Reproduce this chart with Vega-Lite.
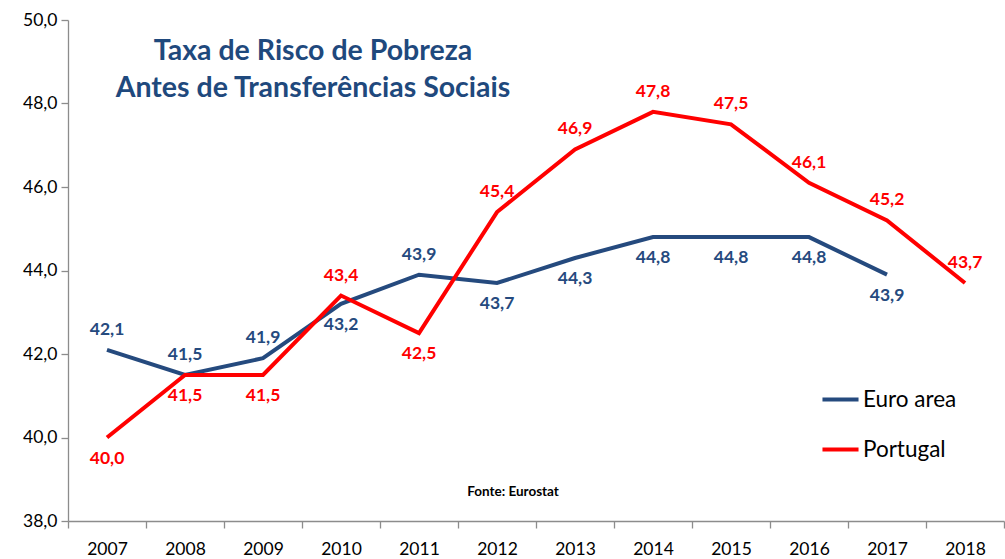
{
  "$schema": "https://vega.github.io/schema/vega-lite/v6.json",
  "width": 936,
  "height": 501,
  "autosize": {"type": "none"},
  "padding": {"left": 68, "top": 20, "right": 1, "bottom": 38},
  "background": "white",
  "config": {
    "view": {"stroke": null},
    "font": "Lato",
    "locale": {"number": {"decimal": ",", "thousands": ".", "grouping": [3], "currency": ["", " €"]}}
  },
  "title": {
    "text": ["Taxa de Risco de Pobreza", "Antes de Transferências Sociais"],
    "font": "Lato",
    "fontSize": 28.5,
    "fontWeight": "bold",
    "color": "#1F497D",
    "anchor": "middle",
    "dx": -223,
    "dy": 95,
    "lineHeight": 37
  },
  "data": {
    "values": [
      {"year": "2007", "series": "Euro area", "value": 42.1},
      {"year": "2008", "series": "Euro area", "value": 41.5},
      {"year": "2009", "series": "Euro area", "value": 41.9},
      {"year": "2010", "series": "Euro area", "value": 43.2},
      {"year": "2011", "series": "Euro area", "value": 43.9},
      {"year": "2012", "series": "Euro area", "value": 43.7},
      {"year": "2013", "series": "Euro area", "value": 44.3},
      {"year": "2014", "series": "Euro area", "value": 44.8},
      {"year": "2015", "series": "Euro area", "value": 44.8},
      {"year": "2016", "series": "Euro area", "value": 44.8},
      {"year": "2017", "series": "Euro area", "value": 43.9},
      {"year": "2007", "series": "Portugal", "value": 40.0},
      {"year": "2008", "series": "Portugal", "value": 41.5},
      {"year": "2009", "series": "Portugal", "value": 41.5},
      {"year": "2010", "series": "Portugal", "value": 43.4},
      {"year": "2011", "series": "Portugal", "value": 42.5},
      {"year": "2012", "series": "Portugal", "value": 45.4},
      {"year": "2013", "series": "Portugal", "value": 46.9},
      {"year": "2014", "series": "Portugal", "value": 47.8},
      {"year": "2015", "series": "Portugal", "value": 47.5},
      {"year": "2016", "series": "Portugal", "value": 46.1},
      {"year": "2017", "series": "Portugal", "value": 45.2},
      {"year": "2018", "series": "Portugal", "value": 43.7}
    ]
  },
  "layer": [
    {
      "mark": {"type": "line", "strokeWidth": 4},
      "encoding": {
        "x": {
          "field": "year",
          "type": "ordinal",
          "bandPosition": 0.5,
          "scale": {"type": "band", "paddingInner": 0, "paddingOuter": 0, "domain": ["2007","2008","2009","2010","2011","2012","2013","2014","2015","2016","2017","2018"]},
          "axis": {
            "title": null,
            "labelAngle": 0,
            "labelFont": "Lato",
            "labelFontSize": 17.5,
            "labelColor": "#000000",
            "labelPadding": 12,
            "tickBand": "extent",
            "tickSize": 7,
            "tickColor": "#8c8c8c",
            "domainColor": "#8c8c8c",
            "tickWidth": 1.3,
            "domainWidth": 1.3,
            "grid": false
          }
        },
        "y": {
          "field": "value",
          "type": "quantitative",
          "scale": {"domain": [38, 50], "nice": false, "zero": false},
          "axis": {
            "title": null,
            "values": [38, 40, 42, 44, 46, 48, 50],
            "format": ".1f",
            "labelFont": "Lato",
            "labelFontSize": 17.5,
            "labelColor": "#000000",
            "labelPadding": 4,
            "tickSize": 7,
            "tickColor": "#8c8c8c",
            "domainColor": "#8c8c8c",
            "tickWidth": 1.3,
            "domainWidth": 1.3,
            "grid": false
          }
        },
        "color": {
          "field": "series",
          "type": "nominal",
          "scale": {"domain": ["Euro area", "Portugal"], "range": ["#254A7E", "#FF0000"]},
          "legend": {
            "title": null,
            "orient": "none",
            "legendX": 752,
            "legendY": 359,
            "symbolType": "stroke",
            "symbolSize": 1300,
            "symbolStrokeWidth": 4,
            "labelFont": "Lato",
            "labelFontSize": 22.5,
            "labelColor": "#000000",
            "labelOffset": 2,
            "rowPadding": 18
          }
        }
      }
    },
    {
      "transform": [{"filter": "(datum.series == 'Euro area') == (indexof(['2007','2008','2009','2011'], datum.year) >= 0)"}],
      "mark": {"type": "text", "dy": -20, "fontWeight": "bold", "fontSize": 17.5, "font": "Lato"},
      "encoding": {
        "x": {"field": "year", "type": "ordinal", "bandPosition": 0.5},
        "y": {"field": "value", "type": "quantitative"},
        "color": {"field": "series", "type": "nominal", "legend": null},
        "text": {"field": "value", "type": "quantitative", "format": ".1f"}
      }
    },
    {
      "transform": [{"filter": "(datum.series == 'Euro area') != (indexof(['2007','2008','2009','2011'], datum.year) >= 0)"}],
      "mark": {"type": "text", "dy": 21, "fontWeight": "bold", "fontSize": 17.5, "font": "Lato"},
      "encoding": {
        "x": {"field": "year", "type": "ordinal", "bandPosition": 0.5},
        "y": {"field": "value", "type": "quantitative"},
        "color": {"field": "series", "type": "nominal", "legend": null},
        "text": {"field": "value", "type": "quantitative", "format": ".1f"}
      }
    },
    {
      "data": {"values": [{"note": "Fonte: Eurostat"}]},
      "mark": {"type": "text", "fontSize": 13.5, "fontWeight": "bold", "font": "Lato", "dx": 16, "color": "#000000"},
      "encoding": {
        "x": {"datum": "2012", "type": "ordinal", "bandPosition": 0.5},
        "y": {"datum": 38.7, "type": "quantitative"},
        "text": {"field": "note", "type": "nominal"}
      }
    }
  ]
}
